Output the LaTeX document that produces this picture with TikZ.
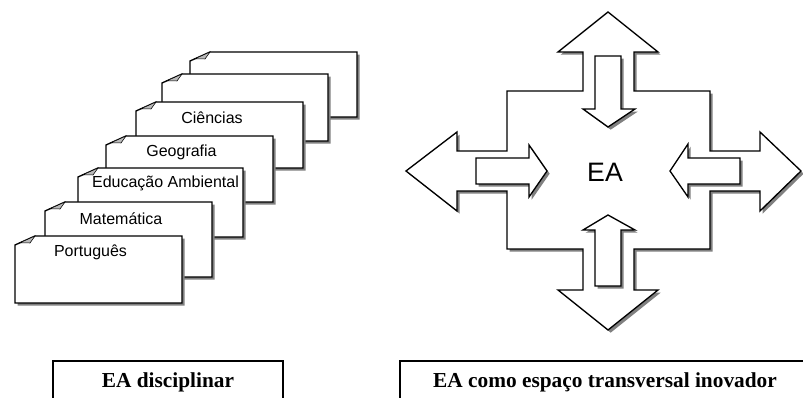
\documentclass[tikz,border=0pt]{standalone}
\usepackage{fontspec}
\newfontfamily\arialfont{Liberation Sans}
\newfontfamily\timesfont{Liberation Serif}
\usetikzlibrary{shadows}
\tikzset{
page/.style={
  draw,
  fill=white,
  line width=1pt,
  drop shadow={shadow xshift=2pt, shadow yshift=-2pt, fill=black!50, opacity=1}
  },
dogear/.style={draw, fill=gray!55, line width=0.4pt},
subject/.style={font=\arialfont\fontsize{12}{14}\selectfont, anchor=base},
bigarrow/.style={
  draw,
  fill=white,
  line width=1pt,
  drop shadow={shadow xshift=2pt, shadow yshift=-2pt, fill=black!50, opacity=1}
  },
frame/.style={draw, line width=0.8pt},
caption/.style={font=\timesfont\bfseries\fontsize{16}{19}\selectfont, anchor=base}
}
\begin{document}
\begin{tikzpicture}[x=0.75pt, y=-0.75pt]
\useasboundingbox (0,0) rectangle (803,398);
\clip (0,0) rectangle (803,398);

% stack of pages, back to front
\draw[page]		(190,61) -- (210,52) -- (357,52) -- (357,117) -- (190,117) -- cycle;
\draw[dogear]	(195,58.75) -- (210,52) -- (205,59) -- cycle;
\draw[page]		(162,83) -- (182,74) -- (328,74) -- (328,141) -- (162,141) -- cycle;
\draw[dogear]	(167,80.75) -- (182,74) -- (177,81) -- cycle;
\draw[page]		(136,111) -- (156,102) -- (303,102) -- (303,168) -- (136,168) -- cycle;
\draw[dogear]	(141,108.75) -- (156,102) -- (151,109) -- cycle;
\draw[page]		(106,145) -- (126,136) -- (273,136) -- (273,202) -- (106,202) -- cycle;
\draw[dogear]	(111,142.75) -- (126,136) -- (121,143) -- cycle;
\draw[page]		(78,177) -- (98,168) -- (243,168) -- (243,237) -- (78,237) -- cycle;
\draw[dogear]	(83,174.75) -- (98,168) -- (93,175) -- cycle;
\draw[page]		(45,211) -- (65,202) -- (212,202) -- (212,277) -- (45,277) -- cycle;
\draw[dogear]	(50,208.75) -- (65,202) -- (60,209) -- cycle;
\draw[page]		(15,245) -- (35,236) -- (182,236) -- (182,303) -- (15,303) -- cycle;
\draw[dogear]	(20,242.75) -- (35,236) -- (30,243) -- cycle;

\node[subject]	(ciencias)		at (212,124)		{Ciências};
\node[subject]	(geografia)		at (181.5,157)	{Geografia};
\node[subject]	(educacao)		at (165.5,188)	{Educação Ambiental};
\node[subject]	(matematica)	at (121,225)		{Matemática};
\node[subject]	(portugues)		at (90.5,257)		{Português};

% cross of double arrows
\draw[bigarrow] (608,12) -- (658,52) -- (634,52) -- (634,91) -- (710,91) -- (710,151)
  -- (760,151) -- (760,132) -- (801,171) -- (760,211) -- (760,191) -- (710,191)
  -- (710,249) -- (634,249) -- (634,290) -- (658,290) -- (608,330) -- (558,290)
  -- (583,290) -- (583,249) -- (507,249) -- (507,191) -- (457,191) -- (457,211)
  -- (406,171) -- (457,132) -- (457,151) -- (507,151) -- (507,91) -- (583,91)
  -- (583,52) -- (558,52) -- cycle;

% arrows pointing in
\draw[bigarrow] (595,56) -- (621,56) -- (621,109) -- (635,109) -- (608,127) -- (583,109) -- (595,109) -- cycle;
\draw[bigarrow] (608,215) -- (635,230) -- (621,230) -- (621,286) -- (595,286) -- (595,230) -- (583,230) -- cycle;
\draw[bigarrow] (476,158) -- (529,158) -- (529,145) -- (547,171) -- (529,197) -- (529,184) -- (476,184) -- cycle;
\draw[bigarrow] (740,158) -- (688,158) -- (688,144) -- (670,171) -- (688,197) -- (688,184) -- (740,184) -- cycle;

\node[font=\arialfont\fontsize{20}{24}\selectfont] (ea) at (605,172) {EA};

% captions
\draw[frame] (53,361) rectangle (283,410);
\draw[frame] (400,361) rectangle (810,410);
\node[caption]	(disciplinar)	at (168,388)	{EA disciplinar};
\node[caption]	(transversal)	at (605,388)	{EA como espaço transversal inovador};
\end{tikzpicture}
\end{document}
